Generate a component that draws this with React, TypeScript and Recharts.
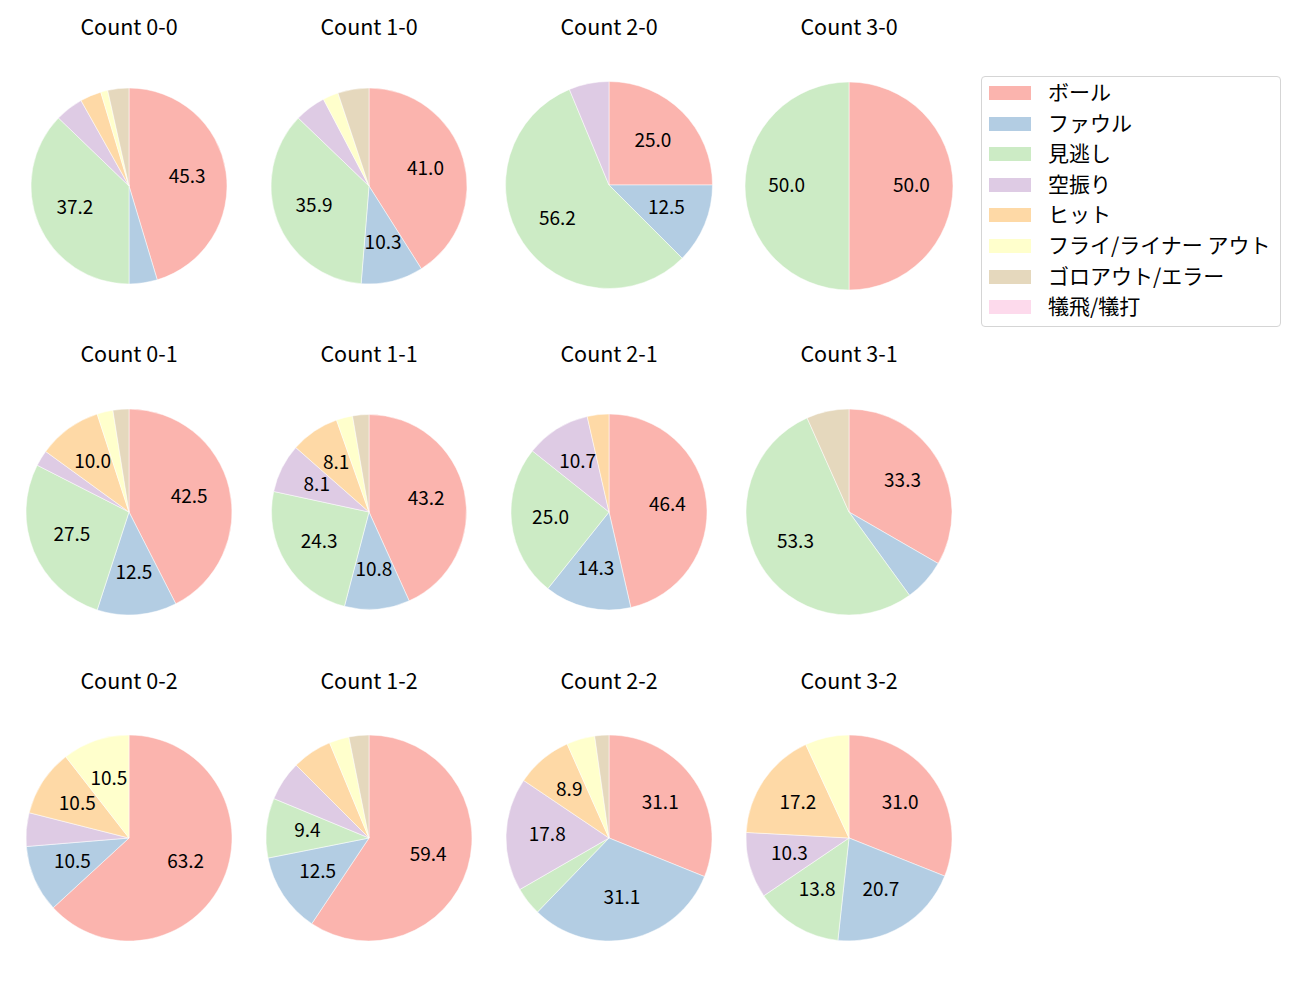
import { PieChart, Pie, Cell } from "recharts"

const categories = [
  "ボール",
  "ファウル",
  "見逃し",
  "空振り",
  "ヒット",
  "フライ/ライナー アウト",
  "ゴロアウト/エラー",
  "犠飛/犠打",
]

// pitch counts per ball-strike state, same order as categories
const count00 = [39, 4, 32, 4, 3, 1, 3, 0]
const count10 = [16, 4, 14, 2, 0, 1, 2, 0]
const count20 = [4, 2, 9, 1, 0, 0, 0, 0]
const count30 = [1, 0, 1, 0, 0, 0, 0, 0]
const count01 = [17, 5, 11, 1, 4, 1, 1, 0]
const count11 = [16, 4, 9, 3, 3, 1, 1, 0]
const count21 = [13, 4, 7, 3, 1, 0, 0, 0]
const count31 = [5, 1, 8, 0, 0, 0, 1, 0]
const count02 = [12, 2, 0, 1, 2, 2, 0, 0]
const count12 = [19, 4, 3, 2, 2, 1, 1, 0]
const count22 = [14, 14, 2, 8, 4, 2, 1, 0]
const count32 = [9, 6, 4, 3, 5, 2, 0, 0]

const titles = [
  "Count 0-0", "Count 1-0", "Count 2-0", "Count 3-0",
  "Count 0-1", "Count 1-1", "Count 2-1", "Count 3-1",
  "Count 0-2", "Count 1-2", "Count 2-2", "Count 3-2",
]
const series = [
  count00, count10, count20, count30,
  count01, count11, count21, count31,
  count02, count12, count22, count32,
]

const colors = ["#fbb4ae", "#b3cde3", "#ccebc5", "#decbe4", "#fed9a6", "#ffffcc", "#e5d8bd", "#fddaec"]

// pie placement: [cx, cy, radius]
const layout = [
  [129, 186, 98], [369, 186, 98], [609, 185, 103.5], [849, 186, 104],
  [129, 512, 103], [369, 512, 97.5], [609, 512, 98], [849, 512, 103],
  [129, 838, 103], [369, 838, 103], [609, 838, 103], [849, 838, 103],
]
const titleY = [28, 355, 682]

const FONT = "'Noto Sans CJK JP', 'Noto Sans', sans-serif"

// python-like rounding (half to even)
function fmt(p: number) {
  const t = p * 10
  const f = Math.floor(t)
  let n = Math.round(t)
  if (Math.abs(t - f - 0.5) < 1e-9) n = f % 2 === 0 ? f : f + 1
  return (n / 10).toFixed(1)
}

const renderLabel = (props: any) => {
  const { cx, cy, midAngle, outerRadius, percent } = props
  const pct = percent * 100
  if (pct < 8) return null
  const rad = Math.PI / 180
  const x = cx + outerRadius * 0.6 * Math.cos(-midAngle * rad)
  const y = cy + outerRadius * 0.6 * Math.sin(-midAngle * rad)
  return (
    <text x={x} y={y - 3} textAnchor="middle" dominantBaseline="central" fill="#000" fontSize={19} fontFamily={FONT}>
      {fmt(pct)}
    </text>
  )
}

export default function App() {
  return (
    <div style={{ position: "absolute", left: 0, top: 0, width: 1300, height: 1000, background: "#fff", fontFamily: FONT }}>
      <PieChart width={1300} height={1000} margin={{ top: 0, right: 0, bottom: 0, left: 0 }}>
        {series.map((vals, i) => {
          const data = vals.map((v, j) => ({ name: categories[j], value: v }))
          const [cx, cy, r] = layout[i]
          return (
            <Pie
              key={titles[i]}
              data={data}
              dataKey="value"
              cx={cx}
              cy={cy}
              outerRadius={r}
              startAngle={90}
              endAngle={-270}
              stroke="#fff"
              strokeWidth={0.5}
              labelLine={false}
              label={renderLabel}
              isAnimationActive={false}
            >
              {data.map((d, j) => (
                <Cell key={d.name} fill={colors[j]} />
              ))}
            </Pie>
          )
        })}
      </PieChart>
      {titles.map((t, i) => (
        <div
          key={t}
          style={{
            position: "absolute",
            left: layout[i][0] - 100,
            width: 200,
            top: titleY[Math.floor(i / 4)] - 17,
            height: 30,
            lineHeight: "30px",
            textAlign: "center",
            fontSize: 21.5,
            color: "#000",
          }}
        >
          {t}
        </div>
      ))}
      <div
        style={{
          position: "absolute",
          left: 981,
          top: 76,
          width: 300,
          height: 251,
          border: "1px solid #d5d5d5",
          borderRadius: 4,
          boxSizing: "border-box",
        }}
      >
        {categories.map((c, j) => (
          <div key={c} style={{ position: "absolute", left: 0, top: 16 + j * 30.6 - 15, height: 30, width: 298 }}>
            <div style={{ position: "absolute", left: 7, top: 8, width: 42, height: 14, background: colors[j] }} />
            <div style={{ position: "absolute", left: 66, top: -2, lineHeight: "30px", fontSize: 21, color: "#000", whiteSpace: "nowrap" }}>
              {c}
            </div>
          </div>
        ))}
      </div>
    </div>
  )
}
